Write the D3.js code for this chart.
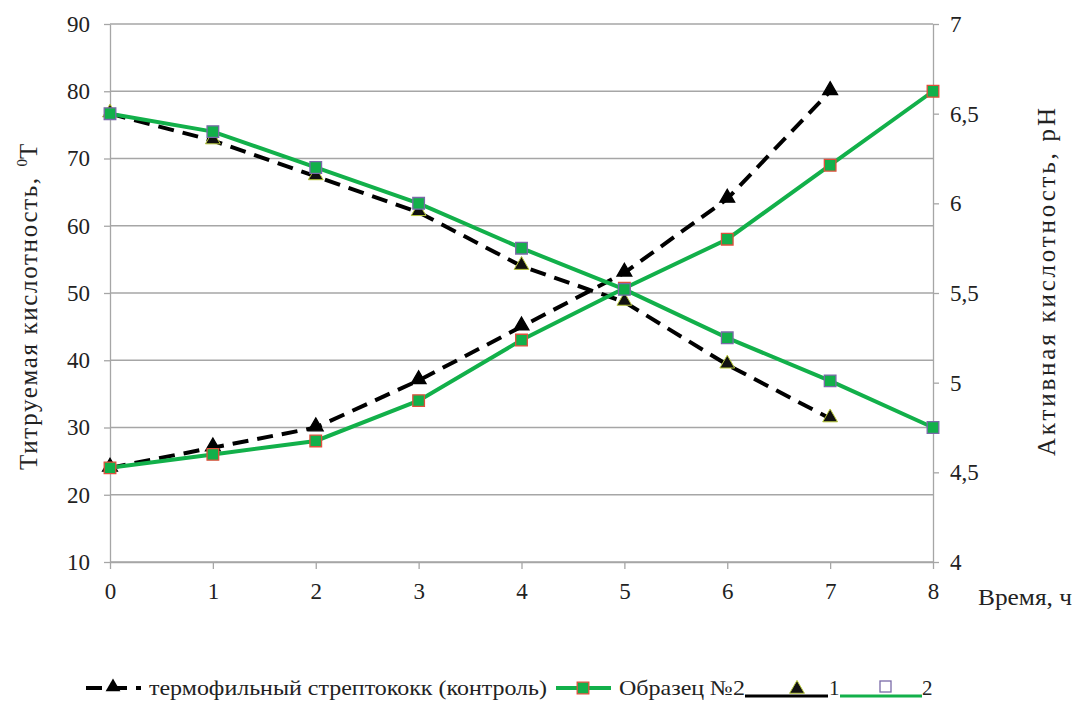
<!DOCTYPE html>
<html><head><meta charset="utf-8">
<script src="https://cdn.jsdelivr.net/npm/d3@7"></script>
<style>body{margin:0;background:#fff}svg{display:block}</style>
</head><body><svg id="c" width="1078" height="702"></svg>
<script>
const hours = [0,1,2,3,4,5,6,7,8];
const controlTitr = [24,27,30,37,45,53,64,80];
const sample2Titr = [24,26,28,34,43,50.7,58,69,80];
const controlPH = [6.5,6.35,6.15,5.95,5.65,5.45,5.1,4.8];
const sample2PH = [6.5,6.4,6.2,6.0,5.75,5.52,5.25,5.01,4.75];
const leftTicks = [10,20,30,40,50,60,70,80,90];
const rightTicks = [4,4.5,5,5.5,6,6.5,7];
const legendLabels = ["термофильный стрептококк (контроль)","Образец №2","1","2"];

const FF = "Times New Roman";
const svg = d3.select("#c");
const L=110,R=933,T=24,B=562;
const x = d3.scaleLinear().domain([0,8]).range([L,R]);
const yL = d3.scaleLinear().domain([10,90]).range([B,T]);
const yR = d3.scaleLinear().domain([4,7]).range([B,T]);
const grid="#a6a6a6", green="#12b04a", ink="#222";

svg.append("g").selectAll("line").data(leftTicks).join("line")
 .attr("x1",L).attr("x2",R).attr("y1",d=>yL(d)).attr("y2",d=>yL(d)).attr("stroke",grid).attr("stroke-width",1.3);
const ga = svg.append("g").attr("transform",`translate(${L},0)`).call(d3.axisLeft(yL).tickValues(leftTicks).tickSize(6).tickSizeOuter(0));
const gr = svg.append("g").attr("transform",`translate(${R},0)`).call(d3.axisRight(yR).tickValues(rightTicks).tickSize(6).tickSizeOuter(0).tickFormat(d=>String(d).replace(".",",")));
const gb = svg.append("g").attr("transform",`translate(0,${B})`).call(d3.axisBottom(x).tickValues(hours).tickSize(7).tickSizeOuter(0));
[ga,gr,gb].forEach(g=>{g.attr("font-family",FF).attr("font-size",23);g.selectAll("path,line").attr("stroke",grid).attr("stroke-width",1.3);
  g.selectAll("text").attr("fill",ink).attr("font-family",FF).attr("font-size",23);});
ga.selectAll("text").attr("x",-20);
gr.selectAll("text").attr("x",17);
gb.selectAll("text").attr("y",14).attr("dy","1em");

function txt(sel){return sel.attr("font-family",FF).attr("fill",ink);}
txt(svg.append("text").attr("transform","translate(37,470) rotate(-90)").attr("font-size",25))
 .html('<tspan textLength="292" lengthAdjust="spacing">Титруемая кислотность,</tspan><tspan font-size="15" dx="10" dy="-10">0</tspan><tspan dy="10">Т</tspan>');
txt(svg.append("text").attr("transform","translate(1055,282) rotate(-90)").attr("text-anchor","middle").attr("font-size",25)
 .attr("textLength",348).attr("lengthAdjust","spacing")).text("Активная кислотность, pH");
txt(svg.append("text").attr("x",978).attr("y",605).attr("font-size",24).attr("textLength",94).attr("lengthAdjust","spacingAndGlyphs")).text("Время, ч");

const tri = d3.symbol().type(d3.symbolTriangle).size(95);
const sq = d3.symbol().type(d3.symbolSquare).size(135);

function series(vals, yS, opt){
  const g = svg.append("g");
  const line = d3.line().x((d,i)=>x(hours[i])).y(d=>yS(d));
  g.append("path").attr("d",line(vals)).attr("fill","none").attr("stroke",opt.color).attr("stroke-width",4)
   .attr("stroke-dasharray",opt.dash||null);
  g.selectAll("path.m").data(vals).join("path").attr("class","m")
   .attr("transform",(d,i)=>`translate(${x(hours[i])},${yS(d)-(opt.tri?1:0)})`)
   .attr("d",opt.tri?tri:sq).attr("fill",opt.fill).attr("stroke",opt.mstroke).attr("stroke-width",opt.sw||1.3);
}
series(controlTitr,yL,{color:"#000",dash:"16,9",tri:true,fill:"#000",mstroke:"#000"});
series(controlPH,yR,{color:"#000",dash:"16,9",tri:true,fill:"#111",mstroke:"#b8c83c",sw:1});
series(sample2Titr,yL,{color:green,fill:green,mstroke:"#e0503c"});
series(sample2PH,yR,{color:green,fill:green,mstroke:"#7a6aa8"});

const ly=688, lg=svg.append("g");
const lt = (xx,s,len)=>{const t=txt(lg.append("text").attr("x",xx).attr("y",ly+7).attr("font-size",21)).text(s); if(len) t.attr("textLength",len).attr("lengthAdjust","spacingAndGlyphs");};
lg.append("line").attr("x1",86).attr("x2",141).attr("y1",ly).attr("y2",ly).attr("stroke","#000").attr("stroke-width",4).attr("stroke-dasharray","16,9");
lg.append("path").attr("transform",`translate(113,${ly-1})`).attr("d",tri).attr("fill","#000");
lt(149,legendLabels[0],398);
lg.append("line").attr("x1",556).attr("x2",611).attr("y1",ly).attr("y2",ly).attr("stroke",green).attr("stroke-width",4);
lg.append("path").attr("transform",`translate(583,${ly})`).attr("d",sq).attr("fill",green).attr("stroke","#e0503c").attr("stroke-width",1.3);
lt(619,legendLabels[1],126);
lg.append("line").attr("x1",745).attr("x2",828).attr("y1",ly+8).attr("y2",ly+8).attr("stroke","#000").attr("stroke-width",3);
lg.append("path").attr("transform",`translate(797,${ly+1})`).attr("d",tri).attr("fill","#111").attr("stroke","#b8c83c").attr("stroke-width",1);
lt(829,legendLabels[2]);
lg.append("line").attr("x1",840).attr("x2",922).attr("y1",ly+8).attr("y2",ly+8).attr("stroke",green).attr("stroke-width",3);
lg.append("rect").attr("x",880).attr("y",ly-7).attr("width",11).attr("height",11).attr("fill","#fff").attr("stroke","#7a6aa8").attr("stroke-width",1.3);
lt(922,legendLabels[3]);
</script></body></html>
